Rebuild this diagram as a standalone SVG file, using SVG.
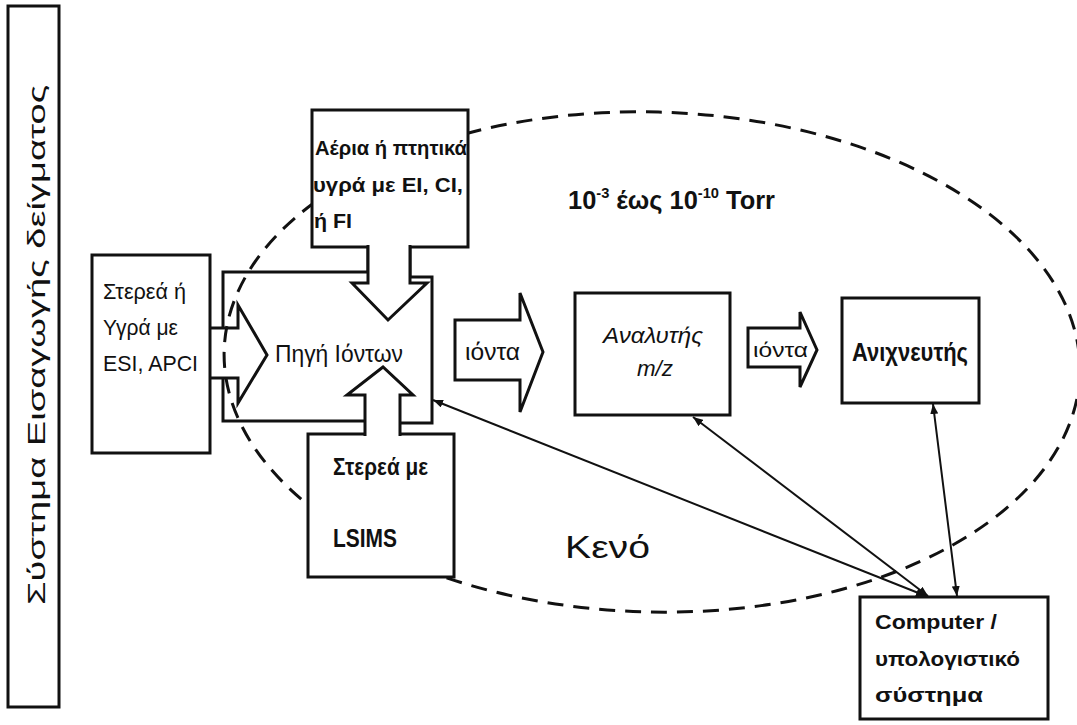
<svg xmlns="http://www.w3.org/2000/svg" width="1077" height="725" viewBox="0 0 1077 725">
<style>
.box{fill:#fff;stroke:#111;stroke-width:3}
.edge{fill:none;stroke:#111;stroke-width:3;stroke-linejoin:miter}
.harrow{fill:#fff;stroke:#111;stroke-width:3;stroke-linejoin:miter}
.conn{fill:none;stroke:#111;stroke-width:2}
.t{font-family:"Liberation Sans",Arial,sans-serif;fill:#111}
.b{font-weight:bold}
.i{font-style:italic}
</style>
<defs>
<marker id="ah" viewBox="0 0 10 8" refX="10" refY="4" markerWidth="10" markerHeight="8" markerUnits="userSpaceOnUse" orient="auto-start-reverse">
<path d="M0,0 L10,4 L0,8 Z" fill="#111"/>
</marker>
</defs>
<rect width="1077" height="725" fill="#fff"/>

<g id="sample-introduction">
<rect class="box" x="8" y="6" width="51" height="701"/>
<text class="t" font-size="23" transform="translate(45,345) rotate(-90)" text-anchor="middle" textLength="520" lengthAdjust="spacingAndGlyphs">Σύστημα Εισαγωγής δείγματος</text>
</g>

<g id="ion-source">
<path class="edge" d="M368,247 V272 H223 V328"/>
<path class="edge" d="M410,247 V277 H432 V423 H400"/>
<path class="edge" d="M223,378 V421 H365"/>
<text class="t" x="275" y="362" font-size="23" textLength="128" lengthAdjust="spacingAndGlyphs">Πηγή Ιόντων</text>
</g>

<ellipse id="vacuum-region" cx="652" cy="362" rx="428" ry="250" transform="rotate(1.5 652 362)" fill="none" stroke="#111" stroke-width="3" stroke-dasharray="16 10"/>

<g id="solid-liquid-input">
<rect class="box" x="92" y="255" width="118" height="198"/>
<path class="edge" d="M210,328 H238 V305 L267,355 L238,403 V378 H210"/>
<text class="t" font-size="22" x="103" y="299" textLength="83" lengthAdjust="spacingAndGlyphs">Στερεά ή</text>
<text class="t" font-size="22" x="103" y="335" textLength="75" lengthAdjust="spacingAndGlyphs">Υγρά με</text>
<text class="t" font-size="22" x="103" y="371" textLength="95" lengthAdjust="spacingAndGlyphs">ESI, APCI</text>
</g>

<g id="gas-input">
<rect class="box" x="312" y="110" width="156" height="137"/>
<path class="harrow" d="M368,245 V283 H352 L388,320 L427,283 H410 V245"/>
<text class="t b" font-size="21" x="315" y="155" textLength="152" lengthAdjust="spacingAndGlyphs">Αέρια ή πτητικά</text>
<text class="t b" font-size="21" x="313" y="192" textLength="150" lengthAdjust="spacingAndGlyphs">υγρά με EI, CI,</text>
<text class="t b" font-size="21" x="314" y="228" textLength="38" lengthAdjust="spacingAndGlyphs">ή FI</text>
</g>

<g id="lsims-input">
<rect class="box" x="308" y="434" width="146" height="143"/>
<path class="harrow" d="M365,436 V395 H347 L383,367 L413,395 H400 V436"/>
<text class="t b" font-size="23" x="333" y="475" textLength="95" lengthAdjust="spacingAndGlyphs">Στερεά με</text>
<text class="t b" font-size="25" x="333" y="547" textLength="64" lengthAdjust="spacingAndGlyphs">LSIMS</text>
</g>

<g id="ions-1">
<path class="harrow" d="M455,320 H520 V293 L543,352 L520,412 V380 H455 Z"/>
<text class="t" font-size="23" x="465" y="360" textLength="55" lengthAdjust="spacingAndGlyphs">ιόντα</text>
</g>

<g id="analyzer">
<rect class="box" x="575" y="293" width="155" height="122"/>
<text class="t i" font-size="22" x="603" y="343" textLength="100" lengthAdjust="spacingAndGlyphs">Αναλυτής</text>
<text class="t i" font-size="22" x="637" y="376" textLength="36" lengthAdjust="spacingAndGlyphs">m/z</text>
</g>

<g id="ions-2">
<path class="harrow" d="M748,328 H800 V312 L817,350 L800,387 V367 H748 Z"/>
<text class="t" font-size="21" x="753" y="357" textLength="55" lengthAdjust="spacingAndGlyphs">ιόντα</text>
</g>

<g id="detector">
<rect class="box" x="842" y="298" width="137" height="105"/>
<text class="t b" font-size="26" x="852" y="361" textLength="116" lengthAdjust="spacingAndGlyphs">Ανιχνευτής</text>
</g>

<g id="computer">
<rect class="box" x="860" y="597" width="188" height="122"/>
<text class="t b" font-size="21" x="875" y="629" textLength="122" lengthAdjust="spacingAndGlyphs">Computer /</text>
<text class="t b" font-size="21" x="875" y="666" textLength="145" lengthAdjust="spacingAndGlyphs">υπολογιστικό</text>
<text class="t b" font-size="21" x="875" y="702" textLength="108" lengthAdjust="spacingAndGlyphs">σύστημα</text>
</g>

<g id="labels">
<text class="t b" font-size="26" x="568" y="209" textLength="207" lengthAdjust="spacingAndGlyphs">10<tspan font-size="15" dy="-11">-3</tspan><tspan dy="11"> έως 10</tspan><tspan font-size="15" dy="-11">-10</tspan><tspan dy="11"> Torr</tspan></text>
<text class="t" font-size="32" x="565" y="558" textLength="85" lengthAdjust="spacingAndGlyphs">Κενό</text>
</g>

<g id="connectors">
<line class="conn" x1="433" y1="400" x2="926" y2="596" marker-start="url(#ah)" marker-end="url(#ah)"/>
<line class="conn" x1="693" y1="417" x2="928" y2="596" marker-start="url(#ah)" marker-end="url(#ah)"/>
<line class="conn" x1="933" y1="404" x2="957" y2="596" marker-start="url(#ah)" marker-end="url(#ah)"/>
</g>
</svg>
